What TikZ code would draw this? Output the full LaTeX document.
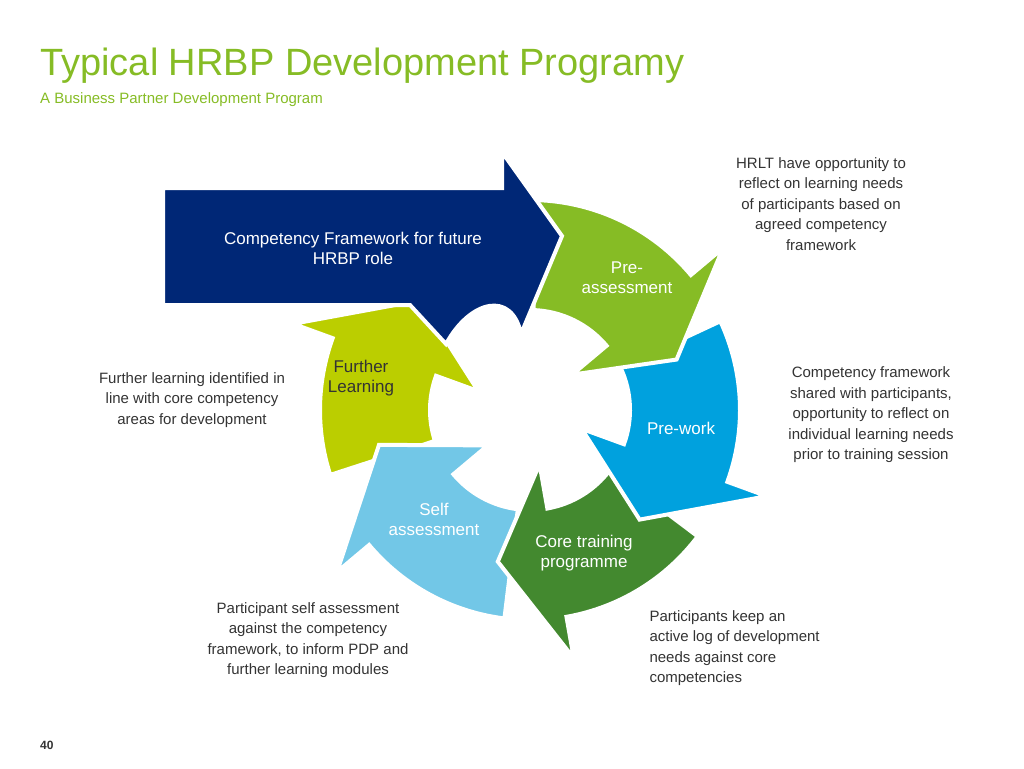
\documentclass[tikz,border=0pt]{standalone}
\usepackage{fontspec}
\setmainfont{Liberation Sans}
\definecolor{cnavy}{HTML}{002776}
\definecolor{cgreen}{HTML}{86BC25}
\definecolor{cblue}{HTML}{00A1DE}
\definecolor{cdgreen}{HTML}{43892F}
\definecolor{clblue}{HTML}{72C7E7}
\definecolor{clime}{HTML}{BBCE00}
\definecolor{ctext}{HTML}{333333}
\tikzset{
  seg/.style={draw=white,line width=4pt,line join=miter},
  lab/.style={text=white,align=center,font=\fontsize{17}{20}\selectfont},
  desc/.style={text=ctext,align=center,font=\fontsize{15}{20.5}\selectfont},
}
\newcommand{\cseg}[4]{% color, tail, base, tip
  \fill[#1,seg] (#2:210) arc[start angle=#2,end angle=#3,radius=210] -- (#3:252) -- (#4:155) -- (#3:55) -- (#3:100) arc[start angle=#3,end angle=#2,radius=100] -- cycle;}
\begin{document}
\begin{tikzpicture}[x=1pt,y=-1pt]
\useasboundingbox (0,0) rectangle (1024,768);
\node[anchor=base west,text=cgreen,font=\fontsize{38}{44}\selectfont,inner sep=0] (title) at (40,75) {Typical HRBP Development Programy};
\node[anchor=base west,text=cgreen,font=\fontsize{15}{18}\selectfont,inner sep=0] (sub) at (40,103) {A Business Partner Development Program};
\begin{scope}[shift={(530,410)}]
\cseg{clime}{162}{200}{225}
\cseg{clblue}{97}{140}{167}
\cseg{cdgreen}{37}{80}{102}
\cseg{cblue}{-25}{20}{45}
\cseg{cgreen}{-88}{-40}{-19}
\end{scope}
\fill[cnavy,seg] (163,188) -- (502,188) -- (502,152) -- (562,236) -- (521,334) .. controls (512,290) and (470,300) .. (446,344) -- (410,305) -- (163,305) -- cycle;
\node[lab] (cf) at (353,248) {Competency Framework for future\\HRBP role};
\node[lab] (pa) at (627,278) {Pre-\\assessment};
\node[lab] (pw) at (681,428) {Pre-work};
\node[lab] (ct) at (584,553) {Core training\\programme};
\node[lab] (sa) at (434,519) {Self\\assessment};
\node[lab,text=ctext] (fl) at (361,378) {Further\\Learning};
\node[desc] (d1) at (821,204) {HRLT have opportunity to\\reflect on learning needs\\of participants based on\\agreed competency\\framework};
\node[desc] (d2) at (871,415) {Competency framework\\shared with participants,\\opportunity to reflect on\\individual learning needs\\prior to training session};
\node[desc] (d3) at (192,400) {Further learning identified in\\line with core competency\\areas for development};
\node[desc] (d4) at (308,640) {Participant self assessment\\against the competency\\framework, to inform PDP and\\further learning modules};
\node[desc,align=left,anchor=west] (d5) at (646,648) {Participants keep an\\active log of development\\needs against core\\competencies};
\node[anchor=base west,text=ctext,font=\bfseries\fontsize{12}{14}\selectfont,inner sep=0] (pg) at (40,749) {40};
\end{tikzpicture}
\end{document}
